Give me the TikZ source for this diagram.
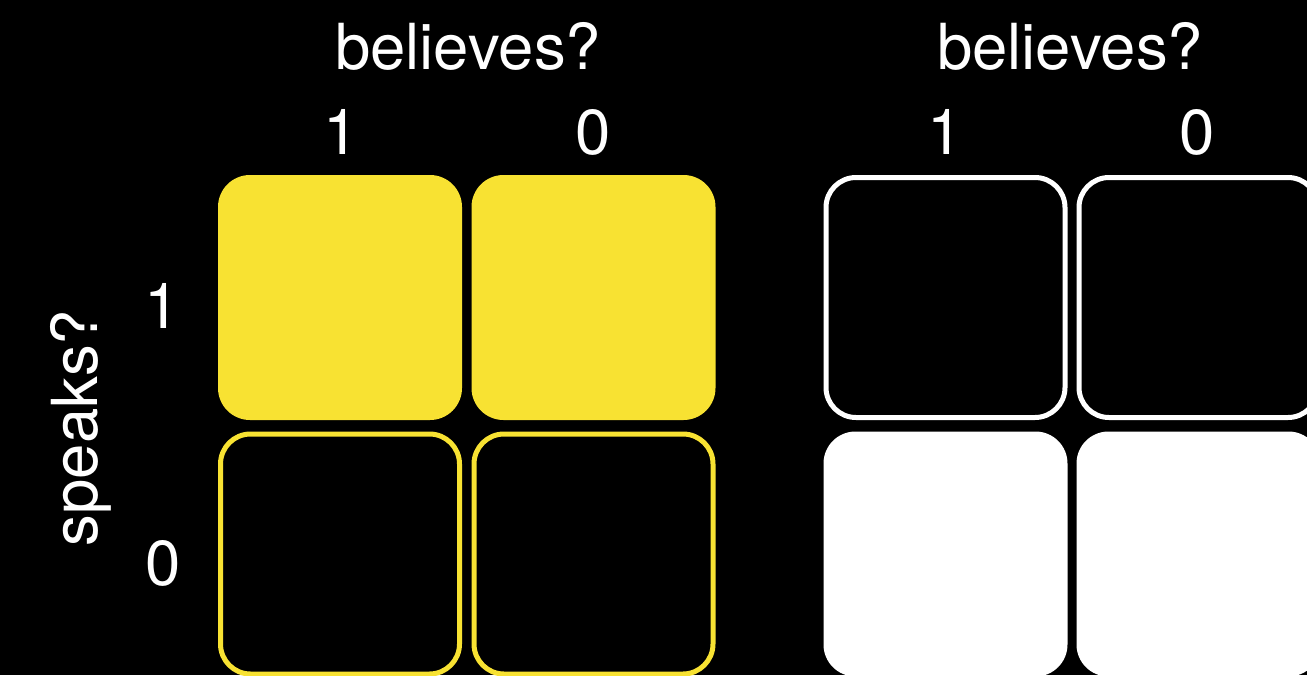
\documentclass[tikz,border=0pt]{standalone}
\usepackage{fontspec}
\setmainfont{TeX Gyre Heros}
\definecolor{ylw}{RGB}{248,226,50}
\begin{document}
\begin{tikzpicture}[x=1pt,y=-1pt,
  cell/.style={rectangle, rounded corners=32pt, minimum width=244pt, minimum height=245pt, inner sep=0pt, outer sep=0pt},
  yfill/.style={cell, fill=ylw},
  yline/.style={cell, draw=ylw, line width=5pt, rounded corners=30pt, minimum width=239pt, minimum height=240pt},
  wfill/.style={cell, fill=white},
  wline/.style={cell, draw=white, line width=5pt, rounded corners=30pt, minimum width=239pt, minimum height=240pt},
  lbl/.style={text=white, font=\fontsize{63.5}{70}\selectfont, inner sep=0pt}
]
\fill[black] (0,0) rectangle (1307,675);
\useasboundingbox (0,0) rectangle (1307,675);
\clip (0,0) rectangle (1307,675);

% left grid
\node[yfill] (a11) at (340,297.5) {};
\node[yfill] (a12) at (593.5,297.5) {};
\node[yline] (a21) at (340,554) {};
\node[yline] (a22) at (593.5,554) {};

% right grid
\node[wline] (b11) at (945.5,297.5) {};
\node[wline] (b12) at (1198.5,297.5) {};
\node[wfill] (b21) at (945.5,554) {};
\node[wfill] (b22) at (1198.5,554) {};

% labels
\node[lbl, anchor=base] (tA) at (468,69) {believes?};
\node[lbl, anchor=base] (tB) at (1070,69) {believes?};
\node[lbl, anchor=base] (cA1) at (341,154) {1};
\node[lbl, anchor=base] (cA0) at (593,154) {0};
\node[lbl, anchor=base] (cB1) at (945,154) {1};
\node[lbl, anchor=base] (cB0) at (1197,154) {0};
\node[lbl, anchor=base] (r1) at (162,328) {1};
\node[lbl, anchor=base] (r0) at (163,585) {0};
\node[lbl, rotate=90, anchor=base] (sp) at (97,428) {speaks?};
\end{tikzpicture}
\end{document}
